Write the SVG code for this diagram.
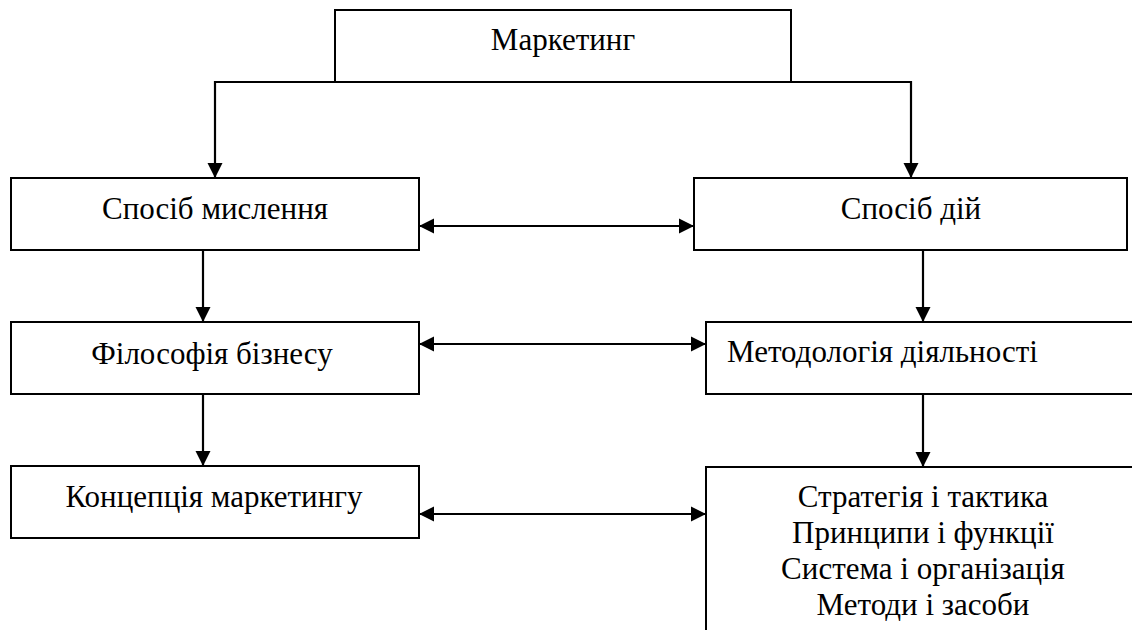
<svg xmlns="http://www.w3.org/2000/svg" width="1132" height="630" viewBox="0 0 1132 630">
<style>
.box{fill:#fff;stroke:#000;stroke-width:2}
.t{font-family:'Liberation Serif',serif;font-size:31px;fill:#000}
.c{text-anchor:middle}
.ln{fill:none;stroke:#000;stroke-width:2.2}
</style>
<defs>
<marker id="ah" markerUnits="userSpaceOnUse" markerWidth="16" markerHeight="16" refX="15" refY="8" orient="auto-start-reverse" viewBox="0 0 16 16">
<path d="M0,0.5 L15,8 L0,15.5 Z" fill="#000"/>
</marker>
</defs>
<rect width="1132" height="630" fill="#fff"/>
<g id="n-marketing">
<rect class="box" x="335" y="10" width="456" height="72"/>
<text class="t c" font-family="Liberation Serif" x="563" y="50">Маркетинг</text>
</g>
<g id="n-thinking">
<rect class="box" x="11" y="178" width="408" height="72"/>
<text class="t c" font-family="Liberation Serif" x="215" y="219">Спосіб мислення</text>
</g>
<g id="n-action">
<rect class="box" x="694" y="178" width="433" height="72"/>
<text class="t c" font-family="Liberation Serif" x="911" y="219">Спосіб дій</text>
</g>
<g id="n-philosophy">
<rect class="box" x="11" y="322" width="408" height="72"/>
<text class="t c" font-family="Liberation Serif" x="212" y="364">Філософія бізнесу</text>
</g>
<g id="n-methodology">
<rect class="box" x="706" y="322" width="440" height="72"/>
<text class="t" font-family="Liberation Serif" x="727" y="362">Методологія діяльності</text>
</g>
<g id="n-concept">
<rect class="box" x="11" y="466" width="408" height="72"/>
<text class="t c" font-family="Liberation Serif" x="214" y="507">Концепція маркетингу</text>
</g>
<g id="n-strategy">
<rect class="box" x="706" y="467" width="440" height="200"/>
<text class="t c" font-family="Liberation Serif" x="923" y="507">Стратегія і тактика</text>
<text class="t c" font-family="Liberation Serif" x="923" y="543">Принципи і функції</text>
<text class="t c" font-family="Liberation Serif" x="923" y="579">Система і організація</text>
<text class="t c" font-family="Liberation Serif" x="923" y="615">Методи і засоби</text>
</g>
<g id="connectors">
<line class="ln" x1="215" y1="82" x2="911" y2="82"/>
<line class="ln" x1="215" y1="81" x2="215" y2="178" marker-end="url(#ah)"/>
<line class="ln" x1="911" y1="81" x2="911" y2="178" marker-end="url(#ah)"/>
<line class="ln" x1="203" y1="250" x2="203" y2="322" marker-end="url(#ah)"/>
<line class="ln" x1="203" y1="394" x2="203" y2="466" marker-end="url(#ah)"/>
<line class="ln" x1="923" y1="250" x2="923" y2="322" marker-end="url(#ah)"/>
<line class="ln" x1="923" y1="394" x2="923" y2="467" marker-end="url(#ah)"/>
<line class="ln" x1="419" y1="226" x2="694" y2="226" marker-start="url(#ah)" marker-end="url(#ah)"/>
<line class="ln" x1="419" y1="344" x2="706" y2="344" marker-start="url(#ah)" marker-end="url(#ah)"/>
<line class="ln" x1="419" y1="514" x2="706" y2="514" marker-start="url(#ah)" marker-end="url(#ah)"/>
</g>
</svg>
